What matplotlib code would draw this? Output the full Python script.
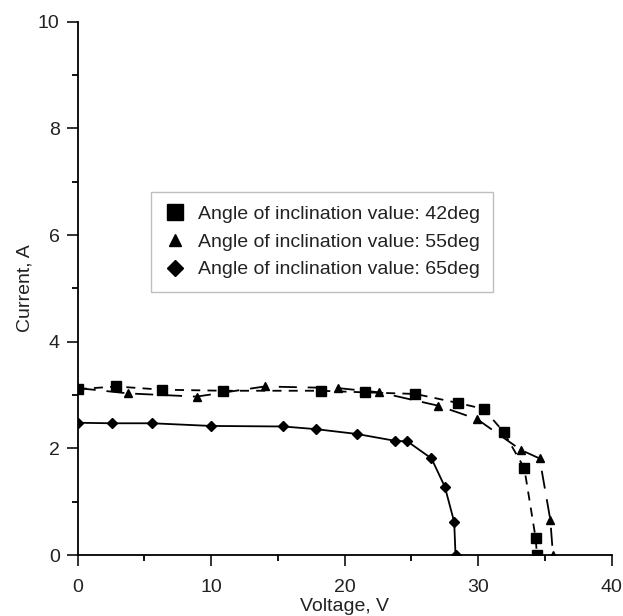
import matplotlib.pyplot as plt
from matplotlib.lines import Line2D

plt.rcParams['font.family'] = ['Liberation Sans', 'DejaVu Sans']

# 42 deg (squares)
v42 = [0, 2.9, 6.3, 10.9, 18.2, 21.5, 25.3, 28.5, 30.4, 31.9, 33.45, 34.3, 34.4]
i42 = [3.11, 3.16, 3.10, 3.08, 3.08, 3.05, 3.02, 2.85, 2.74, 2.31, 1.63, 0.32, 0.0]

# 55 deg (triangles)
v55 = [0, 3.8, 8.9, 14.0, 19.5, 22.6, 27.0, 29.9, 33.2, 34.6, 35.4, 35.6]
i55 = [3.13, 3.03, 2.97, 3.16, 3.13, 3.05, 2.80, 2.55, 1.97, 1.81, 0.66, 0.0]

# 65 deg (diamonds)
v65 = [0, 2.55, 5.6, 10.0, 15.4, 17.85, 20.9, 23.8, 24.7, 26.5, 27.5, 28.2, 28.3]
i65 = [2.48, 2.47, 2.47, 2.42, 2.41, 2.36, 2.27, 2.14, 2.13, 1.81, 1.28, 0.62, 0.0]

labels = ["Angle of inclination value: 42deg",
          "Angle of inclination value: 55deg",
          "Angle of inclination value: 65deg"]

fig = plt.figure(figsize=(6.23, 6.16), dpi=100)
ax = fig.add_axes([0.1247, 0.099, 0.8572, 0.8658])

ax.plot(v42, i42, color="black", lw=1.3, dashes=(5, 4), marker="s", ms=7, zorder=3)
ax.plot(v55, i55, color="black", lw=1.3, dashes=(10, 6), marker="^", ms=6, zorder=3)
ax.plot(v65, i65, color="black", lw=1.3, ls="-", marker="D", ms=5, zorder=3)

ax.set_xlim(0, 40)
ax.set_ylim(0, 10)
ax.set_xticks([0, 10, 20, 30, 40])
ax.set_yticks([0, 2, 4, 6, 8, 10])
ax.set_xticks([5, 15, 25, 35], minor=True)
ax.set_yticks([1, 3, 5, 7, 9], minor=True)
ax.tick_params(which="major", direction="out", length=8, width=1.3,
               labelsize=14, colors="#222222")
ax.tick_params(axis="x", which="major", pad=9)
ax.tick_params(axis="y", which="major", pad=5)
ax.tick_params(which="minor", direction="out", length=4, width=1.3)
ax.spines["top"].set_visible(False)
ax.spines["right"].set_visible(False)
ax.spines["left"].set_linewidth(1.3)
ax.spines["bottom"].set_linewidth(1.3)
for s in ax.spines.values():
    s.set_clip_on(False)

ax.set_xlabel("Voltage, V", fontsize=14, labelpad=2, color="#222222")
ax.set_ylabel("Current, A", fontsize=14, labelpad=3, color="#222222")

handles = [Line2D([], [], color="black", ls="none", marker="s", ms=11),
           Line2D([], [], color="black", ls="none", marker="^", ms=9),
           Line2D([], [], color="black", ls="none", marker="D", ms=8)]
leg = ax.legend(handles, labels, loc="upper left", bbox_to_anchor=(0.137, 0.681),
                borderaxespad=0, fontsize=14, frameon=True, fancybox=False,
                handlelength=1.1, handletextpad=0.6, labelspacing=0.52,
                borderpad=0.7)
leg.get_frame().set_edgecolor("#b0b0b0")
leg.get_frame().set_linewidth(1.0)
for t in leg.get_texts():
    t.set_color("#222222")

plt.savefig("out.png", dpi=100)
